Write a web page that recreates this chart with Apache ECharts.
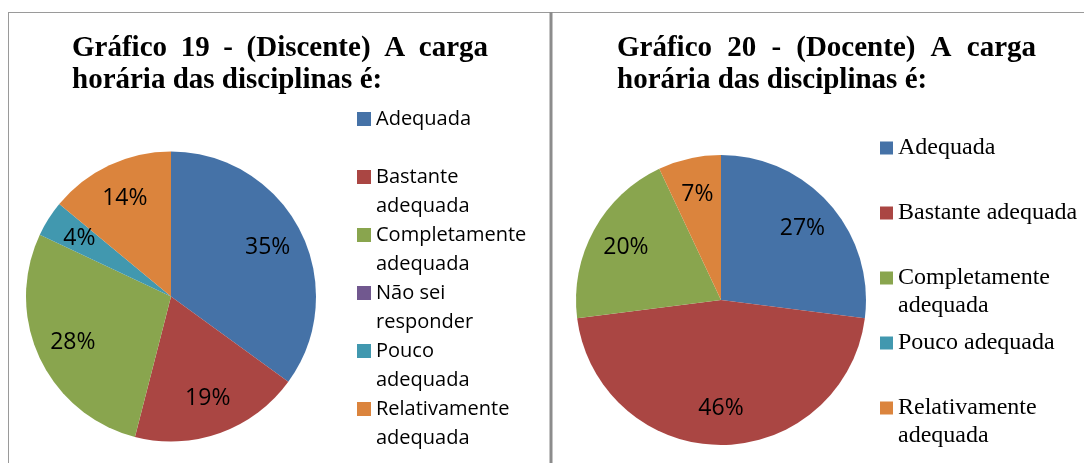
<!DOCTYPE html>
<html>
<head>
<meta charset="utf-8">
<script src="https://cdn.jsdelivr.net/npm/echarts@6/dist/echarts.min.js"></script>
<style>
  html, body { margin: 0; padding: 0; background: #fff; }
  #chart { width: 1084px; height: 463px; }
</style>
</head>
<body>
<div id="chart"></div>
<script>
// dados
var nomesDiscente = ['Adequada', 'Bastante adequada', 'Completamente adequada', 'Não sei responder', 'Pouco adequada', 'Relativamente adequada'];
var valoresDiscente = [35, 19, 28, 0, 4, 14];

var nomesDocente = ['Adequada', 'Bastante adequada', 'Completamente adequada', 'Pouco adequada', 'Relativamente adequada'];
var valoresDocente = [27, 46, 20, 0, 7];

var tituloDiscente = ['Gráfico', '19', '-', '(Discente)', 'A', 'carga'];
var tituloDocente = ['Gráfico', '20', '-', '(Docente)', 'A', 'carga'];
var tituloLinha2 = 'horária das disciplinas é:';

var cores = {
  'Adequada': '#4572A7',
  'Bastante adequada': '#AA4643',
  'Completamente adequada': '#89A54E',
  'Não sei responder': '#71588F',
  'Pouco adequada': '#4198AF',
  'Relativamente adequada': '#DB843D'
};

// quebras de linha das legendas
var legEsq = {
  'Adequada': 'Adequada\n',
  'Bastante adequada': 'Bastante\nadequada',
  'Completamente adequada': 'Completamente\nadequada',
  'Não sei responder': 'Não sei\nresponder',
  'Pouco adequada': 'Pouco\nadequada',
  'Relativamente adequada': 'Relativamente\nadequada'
};
var legDir = {
  'Adequada': 'Adequada\n',
  'Bastante adequada': 'Bastante adequada\n',
  'Completamente adequada': 'Completamente\nadequada',
  'Pouco adequada': 'Pouco adequada\n',
  'Relativamente adequada': 'Relativamente\nadequada'
};

function montaDados(nomes, valores) {
  return nomes.map(function (n, i) {
    return { name: n, value: valores[i], itemStyle: { color: cores[n] } };
  });
}

function fatia(centro, dados) {
  return {
    type: 'pie',
    center: centro,
    radius: [0, 145],
    startAngle: 90,
    clockwise: true,
    silent: true,
    label: { show: false },
    labelLine: { show: false },
    itemStyle: { borderWidth: 0 },
    emphasis: { disabled: true },
    data: dados
  };
}

function rotulos(centro, nomes, valores) {
  return {
    type: 'pie',
    center: centro,
    radius: [66, 145],
    startAngle: 90,
    clockwise: true,
    silent: true,
    itemStyle: { color: 'rgba(0,0,0,0)', borderWidth: 0 },
    emphasis: { disabled: true },
    labelLine: { show: false },
    label: {
      show: true,
      position: 'inside',
      fontFamily: 'Open Sans',
      fontSize: 23,
      color: '#000',
      formatter: function (p) { return p.value > 0 ? p.value + '%' : ''; }
    },
    data: nomes.map(function (n, i) { return { name: n, value: valores[i] }; })
  };
}

// título: primeira linha justificada (palavras espalhadas até a largura)
var ctx = document.createElement('canvas').getContext('2d');
ctx.font = 'bold 29px "Liberation Serif"';

function textoTitulo(x, y, t) {
  return {
    type: 'text',
    style: {
      x: x, y: y, text: t,
      fontFamily: 'Liberation Serif', fontWeight: 'bold', fontSize: 29,
      fill: '#000', verticalAlign: 'middle'
    }
  };
}

function titulo(palavras, x, largura) {
  var larg = palavras.map(function (p) { return ctx.measureText(p).width; });
  var soma = larg.reduce(function (a, b) { return a + b; }, 0);
  var gap = (largura - soma) / (palavras.length - 1);
  var els = [];
  var cx = x;
  palavras.forEach(function (p, i) {
    els.push(textoTitulo(cx, 49, p));
    cx += larg[i] + gap;
  });
  els.push(textoTitulo(x, 81, tituloLinha2));
  return els;
}

var chart = echarts.init(document.getElementById('chart'));

var bordas = [
  { type: 'line', shape: { x1: 8, y1: 12.5, x2: 1084, y2: 12.5 }, style: { stroke: '#9a9a9a', lineWidth: 1 } },
  { type: 'line', shape: { x1: 8.5, y1: 12, x2: 8.5, y2: 463 }, style: { stroke: '#9a9a9a', lineWidth: 1 } },
  { type: 'line', shape: { x1: 551, y1: 12, x2: 551, y2: 463 }, style: { stroke: '#8c8c8c', lineWidth: 3 } }
];

var option = {
  backgroundColor: '#fff',
  animation: false,
  legend: [
    {
      orient: 'vertical',
      left: 357, top: 75.5, padding: 0,
      itemWidth: 14, itemHeight: 14, itemGap: -29,
      icon: 'rect',
      selectedMode: false,
      data: nomesDiscente,
      formatter: function (n) { return '\n' + legEsq[n]; },
      textStyle: { fontFamily: 'Open Sans', fontSize: 20, lineHeight: 29, color: '#000' }
    },
    {
      orient: 'vertical',
      left: 880, top: 106, padding: 0,
      itemWidth: 13, itemHeight: 13, itemGap: -19,
      icon: 'rect',
      selectedMode: false,
      data: nomesDocente,
      formatter: function (n) { return '\n' + legDir[n]; },
      textStyle: { fontFamily: 'Liberation Serif', fontSize: 24, lineHeight: 28, color: '#000' }
    }
  ],
  graphic: titulo(tituloDiscente, 72, 416).concat(titulo(tituloDocente, 617, 419), bordas),
  series: [
    fatia([171, 296.5], montaDados(nomesDiscente, valoresDiscente)),
    fatia([721, 300], montaDados(nomesDocente, valoresDocente)),
    rotulos([171, 296.5], nomesDiscente, valoresDiscente),
    rotulos([721, 300], nomesDocente, valoresDocente)
  ]
};

chart.setOption(option);
window.addEventListener('resize', function () { chart.resize(); });
</script>
</body>
</html>
